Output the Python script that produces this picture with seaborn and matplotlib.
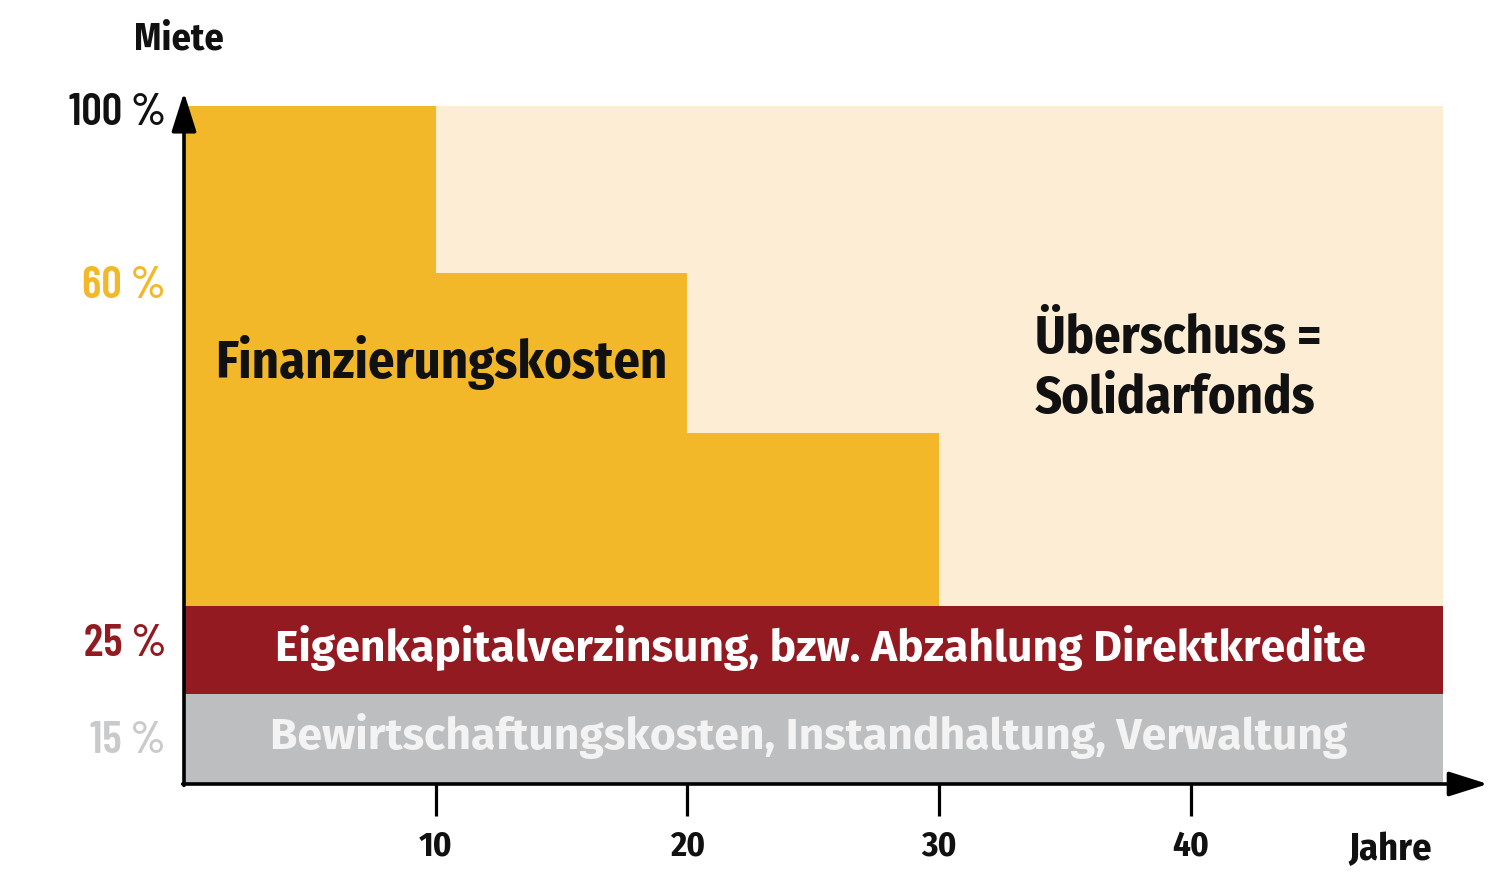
import matplotlib
matplotlib.use("Agg")
import matplotlib.pyplot as plt
import seaborn as sns
import numpy as np

# --- data (share of rent on a schematic 0..100 scale) ---
years = [0, 10, 20, 30, 50]                 # step edges in years
financing_top = [100, 75.4, 51.8, 26.3]     # upper edge of the financing block per decade
management_top = 13.3                        # Bewirtschaftung band
equity_top = 26.3                            # Eigenkapital band
total = 100

x_ticks = [10, 20, 30, 40]
y_tick_pos = [99.6, 74.0, 21.2, 6.9]
y_tick_labels = ["100 %", "60 %", "25 %", "15 %"]

# --- colours ---
C_FIN = "#F2B829"
C_SURPLUS = "#FCEDD4"
C_EQUITY = "#941A21"
C_MGMT = "#BCBEC0"
y_tick_colors = ["#111111", C_FIN, C_EQUITY, "#C9CACB"]

sns.set_style("white")
BOLD = ["Fira Sans Condensed", "DejaVu Sans"]
WIDE = ["Fira Sans", "DejaVu Sans"]
NUM = ["Barlow Condensed", "DejaVu Sans"]
plt.rcParams["font.family"] = BOLD

fig = plt.figure(figsize=(14.92, 8.77), dpi=100)
# 0 yr at x=184 px, 25.17 px per year; 0 % at y=784 px, 6.78 px per unit
ax = fig.add_axes([184 / 1492, (877 - 784) / 877, 51.8 * 25.17 / 1492, 102 * 6.78 / 877])
ax.set_xlim(0, 51.8)
ax.set_ylim(0, 102)

xs = np.array(years, dtype=float)
fin = np.array(financing_top + [financing_top[-1]])

ax.fill_between(xs, 0, total, color=C_SURPLUS, lw=0)
ax.fill_between(xs, equity_top, fin, step="post", color=C_FIN, lw=0)
ax.fill_between(xs, management_top, equity_top, color=C_EQUITY, lw=0)
ax.fill_between(xs, 0, management_top, color=C_MGMT, lw=0)

# axes drawn as arrows
for s in ax.spines.values():
    s.set_visible(False)
arrow = dict(arrowstyle="-|>,head_length=1.2,head_width=0.38", lw=2.6,
             color="black", mutation_scale=20, shrinkA=0, shrinkB=0)
ax.annotate("", xy=(0, 102), xytext=(0, -0.2), arrowprops=arrow, annotation_clip=False)
ax.annotate("", xy=(51.8, 0), xytext=(-0.05, 0), arrowprops=arrow, annotation_clip=False)

ax.set_xticks(x_ticks)
ax.set_xticklabels([str(t) for t in x_ticks], fontsize=25, fontweight="bold",
                   color="#111111")
ax.tick_params(axis="x", length=23, width=2.3, color="black", pad=10, direction="out",
               bottom=True)
ax.set_yticks(y_tick_pos)
ax.set_yticklabels(y_tick_labels, fontsize=32.5, family=NUM, fontweight=600)
ax.tick_params(axis="y", length=0, pad=13)
for lbl, c in zip(ax.get_yticklabels(), y_tick_colors):
    lbl.set_color(c)
ax.grid(False)

# axis titles
fig.text(179 / 1492, 1 - 50 / 877, "Miete", ha="center", va="baseline",
         fontsize=27.5, fontweight="bold", color="#111111")
fig.text(1390 / 1492, 1 - 860 / 877, "Jahre", ha="center", va="baseline",
         fontsize=27.5, fontweight="bold", color="#111111")

# labels inside the areas
ax.text(1.23, 59.9, "Finanzierungskosten", ha="left", va="baseline",
        fontsize=37.7, fontweight="bold", color="#111111")
ax.text(33.8, 63.6, "Überschuss =", ha="left", va="baseline",
        fontsize=37.7, fontweight="bold", color="#111111")
ax.text(33.8, 54.7, "Solidarfonds", ha="left", va="baseline",
        fontsize=37.7, fontweight="bold", color="#111111")
ax.text(25.3, 18.1, "Eigenkapitalverzinsung, bzw. Abzahlung Direktkredite",
        ha="center", va="baseline", fontsize=32, fontweight="bold", color="white",
        family=WIDE)
ax.text(24.8, 5.16, "Bewirtschaftungskosten, Instandhaltung, Verwaltung",
        ha="center", va="baseline", fontsize=32, fontweight="bold", color="#F3F3F3",
        family=WIDE)

fig.savefig("out.png", dpi=100)
